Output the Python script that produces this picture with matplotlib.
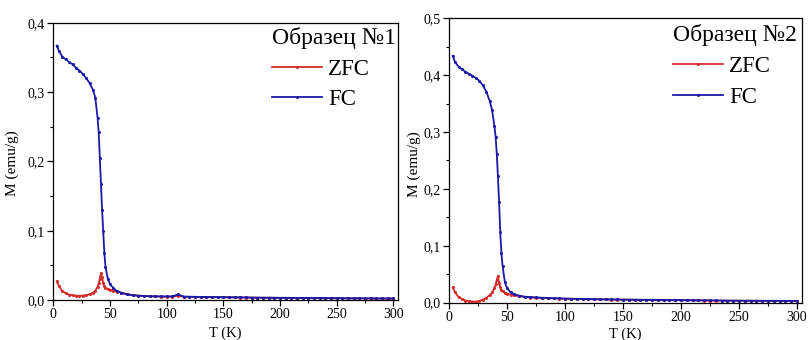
import matplotlib
matplotlib.use("Agg")
import matplotlib.pyplot as plt
from matplotlib.ticker import MultipleLocator, FuncFormatter

plt.rcParams['font.family'] = ['Liberation Serif', 'DejaVu Serif']

# temperature grid (K), same for both samples
temps = [3, 5, 8, 11, 14, 17, 20, 23, 26, 29, 32, 35, 37, 39, 40, 41, 42, 43, 44, 45, 46, 48, 50, 53, 56, 60, 65,
         70, 75, 80, 85, 90, 95, 100, 105, 110, 115, 120, 125, 130, 135, 140, 145, 150, 155, 160, 165, 170,
         175, 180, 185, 190, 195, 200, 205, 210, 215, 220, 225, 230, 235, 240, 245, 250, 255, 260, 265, 270,
         275, 280, 285, 290, 295, 300]

# Образец №1
zfc1 = [0.027, 0.020, 0.013, 0.0095, 0.0078, 0.0068, 0.0063, 0.0062, 0.0064, 0.0070, 0.0082, 0.0105, 0.0135,
        0.019, 0.024, 0.031, 0.039, 0.033, 0.024, 0.020, 0.018, 0.016, 0.015, 0.0135, 0.012, 0.0105, 0.0085,
        0.0072, 0.0064, 0.0058, 0.0054, 0.0051, 0.0049, 0.0048, 0.0048, 0.0062, 0.0046, 0.0045, 0.0044, 0.0043,
        0.0042, 0.0041, 0.0040, 0.0039, 0.0038, 0.0037, 0.0036, 0.0035, 0.0034, 0.0033, 0.0032, 0.0032, 0.0031,
        0.0030, 0.0030, 0.0029, 0.0028, 0.0028, 0.0027, 0.0027, 0.0026, 0.0026, 0.0025, 0.0025, 0.0024, 0.0024,
        0.0023, 0.0023, 0.0022, 0.0022, 0.0021, 0.0021, 0.0020, 0.0020]
fc1 = [0.367, 0.359, 0.351, 0.347, 0.343, 0.340, 0.335, 0.331, 0.326, 0.320, 0.313, 0.303, 0.292, 0.263,
       0.242, 0.205, 0.168, 0.130, 0.099, 0.068, 0.048, 0.031, 0.023, 0.017, 0.013, 0.0105, 0.008,
       0.0068, 0.0062, 0.0058, 0.0055, 0.0053, 0.0052, 0.0051, 0.0052, 0.0080, 0.0050, 0.0048, 0.0046, 0.0045,
       0.0044, 0.0043, 0.0042, 0.0041, 0.0040, 0.0039, 0.0038, 0.0037, 0.0036, 0.0035, 0.0034, 0.0034, 0.0033,
       0.0032, 0.0032, 0.0031, 0.0030, 0.0030, 0.0029, 0.0029, 0.0028, 0.0028, 0.0027, 0.0027, 0.0026, 0.0026,
       0.0025, 0.0025, 0.0024, 0.0024, 0.0023, 0.0023, 0.0022, 0.0022]

# Образец №2
zfc2 = [0.027, 0.018, 0.010, 0.0062, 0.0038, 0.0026, 0.0020, 0.0019, 0.0030, 0.0055, 0.0085, 0.0135, 0.018,
        0.026, 0.032, 0.040, 0.047, 0.035, 0.027, 0.022, 0.020, 0.0175, 0.016, 0.014, 0.0128, 0.0115, 0.010,
        0.0090, 0.0085, 0.0081, 0.0078, 0.0075, 0.0072, 0.0069, 0.0067, 0.0065, 0.0063, 0.0061, 0.0059, 0.0057,
        0.0056, 0.0054, 0.0053, 0.0052, 0.0051, 0.0050, 0.0049, 0.0048, 0.0047, 0.0046, 0.0045, 0.0044, 0.0043,
        0.0042, 0.0041, 0.0040, 0.0039, 0.0038, 0.0037, 0.0036, 0.0035, 0.0034, 0.0034, 0.0033, 0.0033, 0.0032,
        0.0032, 0.0031, 0.0031, 0.0030, 0.0030, 0.0029, 0.0029, 0.0028]
fc2 = [0.434, 0.423, 0.415, 0.410, 0.406, 0.402, 0.399, 0.395, 0.390, 0.382, 0.371, 0.354, 0.338, 0.310,
       0.292, 0.262, 0.222, 0.177, 0.125, 0.088, 0.065, 0.036, 0.025, 0.018, 0.015, 0.0125, 0.0105,
       0.0098, 0.0092, 0.0087, 0.0083, 0.0079, 0.0075, 0.0072, 0.0070, 0.0068, 0.0066, 0.0064, 0.0062, 0.0060,
       0.0059, 0.0057, 0.0056, 0.0055, 0.0054, 0.0053, 0.0052, 0.0051, 0.0050, 0.0049, 0.0048, 0.0047, 0.0046,
       0.0045, 0.0044, 0.0043, 0.0042, 0.0041, 0.0040, 0.0039, 0.0038, 0.0037, 0.0036, 0.0036, 0.0035, 0.0035,
       0.0034, 0.0034, 0.0033, 0.0033, 0.0032, 0.0032, 0.0031, 0.0031]

RED = '#d42a2a'
BLUE = '#1a1aa6'

comma = FuncFormatter(lambda v, p: f"{v:.1f}".replace('.', ','))


def panel(ax, zfc, fc, ymax, title, ylab_x, ylab_y, xlab_y, leg_xy):
    ax.plot(temps, zfc, color=RED, lw=1.3, marker='o', ms=2.2, mew=0, label='ZFC')
    ax.plot(temps, fc, color=BLUE, lw=1.3, marker='o', ms=2.2, mew=0, label='FC')
    ax.set_xlim(0, 304)
    ax.set_ylim(0, ymax)
    ax.xaxis.set_major_locator(MultipleLocator(50))
    ax.xaxis.set_minor_locator(MultipleLocator(25))
    ax.yaxis.set_major_locator(MultipleLocator(0.1))
    ax.yaxis.set_minor_locator(MultipleLocator(0.05))
    ax.yaxis.set_major_formatter(comma)
    ax.tick_params(which='major', direction='out', length=4, width=0.9, labelsize=10, pad=2)
    ax.tick_params(which='minor', direction='out', length=2, width=0.8)
    for s in ax.spines.values():
        s.set_linewidth(0.9)
    ax.set_ylabel('M (emu/g)', fontsize=11)
    ax.set_xlabel('T (K)', fontsize=10.5, va='top')
    ax.yaxis.set_label_coords(ylab_x, ylab_y)
    ax.xaxis.set_label_coords(0.5, xlab_y)
    leg = ax.legend(title=title, loc='upper left', bbox_to_anchor=leg_xy, frameon=False,
                    fontsize=16.5, title_fontsize=17, handlelength=2.2, handletextpad=0.25,
                    labelspacing=0.42, borderpad=0, borderaxespad=0, alignment='left')
    return leg


fig = plt.figure(figsize=(8.08, 3.4), dpi=100)
ax1 = fig.add_axes([0.066, 0.1176, 0.4266, 0.8156])
ax2 = fig.add_axes([0.556, 0.1098, 0.436, 0.8365])

panel(ax1, zfc1, fc1, 0.4, 'Образец №1', -0.0995, 0.494, -0.095, (0.634, 0.985))
panel(ax2, zfc2, fc2, 0.5, 'Образец №2', -0.081, 0.488, -0.087, (0.635, 0.979))

fig.savefig('out.png', dpi=100)
